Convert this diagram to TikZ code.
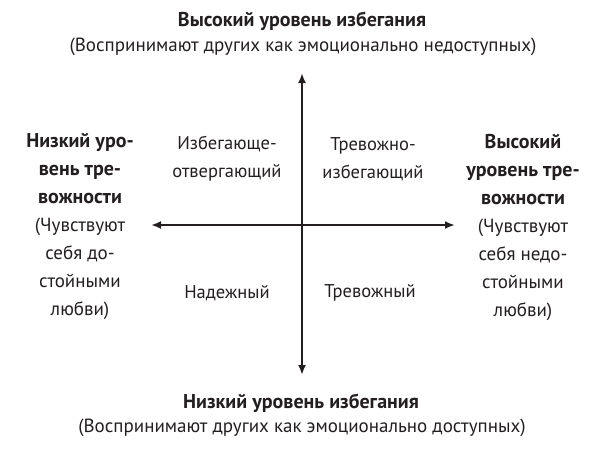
\documentclass[tikz,border=0pt]{standalone}
\usepackage{fontspec}
\setmainfont{PT Sans}
\usetikzlibrary{arrows.meta,positioning}
\definecolor{TX}{HTML}{231F20}
\newcommand{\boldline}[1]{{\fontsize{20}{28}\selectfont\bfseries #1}}

\begin{document}
\begin{tikzpicture}[x=1pt,y=-1pt,
    every node/.style={text=TX, inner sep=0pt},
    axis/.style={draw=TX, line width=2.3pt, {Latex[length=10pt,width=8pt]}-{Latex[length=10pt,width=8pt]}},
    titletext/.style={font=\bfseries\fontsize{20}{22}\selectfont},
    subtext/.style={font=\fontsize{19}{22}\selectfont},
    quadtext/.style={align=center, font=\fontsize{18.5}{28}\selectfont},
    sidetext/.style={align=center, font=\fontsize{19}{28}\selectfont}]
  \useasboundingbox (0,0) rectangle (600,448);
  % axes
  \coordinate (top) at (302,73);
  \coordinate (bottom) at (302,375);
  \coordinate (left) at (151,225);
  \coordinate (right) at (455,225);
  \draw[axis] (bottom) -- (top);
  \draw[axis] (left) -- (right);
  % avoidance labels
  \node[titletext] (hiavoid) at (302,21) {Высокий уровень избегания};
  \node[subtext] (hiavoidsub) at (303,47) {(Воспринимают других как эмоционально недоступных)};
  \node[titletext] (loavoid) at (301,403) {Низкий уровень избегания};
  \node[subtext] (loavoidsub) at (302,428) {(Воспринимают других как эмоционально доступных)};
  % anxiety labels
  \node[sidetext] (loanx) at (80,227) {\boldline{Низкий уро-}\\\boldline{вень тре-}\\\boldline{вожности}\\(Чувствуют\\себя до-\\стойными\\любви)};
  \node[sidetext] (hianx) at (523,227) {\boldline{Высокий}\\\boldline{уровень тре-}\\\boldline{вожности}\\(Чувствуют\\себя недо-\\стойными\\любви)};
  % quadrants
  \node[quadtext] (dismiss) at (227,159) {Избегающе-\\отвергающий};
  \node[quadtext] (fearful) at (373,159) {Тревожно-\\избегающий};
  \node[quadtext] (secure) at (227,293) {Надежный};
  \node[quadtext] (anxious) at (370,293) {Тревожный};
\end{tikzpicture}
\end{document}
